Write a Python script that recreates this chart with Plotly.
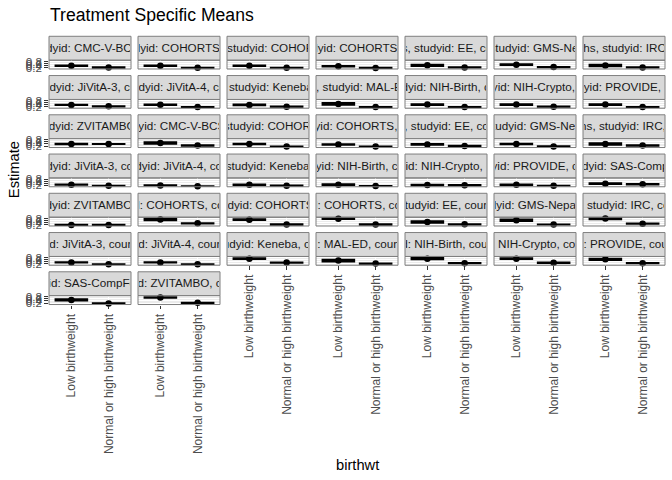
import plotly.graph_objects as go

# ---------------- data ----------------
categories = ["Low birthweight", "Normal or high birthweight"]

panel_agecat = ["24 months"] * 15 + ["6 months"] * 14 + ["Birth"] * 15

panel_studyid = [
    # 24 months
    "CMC-V-BCS-2002", "COHORTS", "COHORTS", "COHORTS", "EE", "GMS-Nepal", "IRC",
    "JiVitA-3", "JiVitA-4", "Keneba", "MAL-ED", "NIH-Birth", "NIH-Crypto", "PROVIDE",
    "ZVITAMBO",
    # 6 months
    "CMC-V-BCS-2002", "COHORTS", "COHORTS", "EE", "GMS-Nepal", "IRC",
    "JiVitA-3", "JiVitA-4", "Keneba", "NIH-Birth", "NIH-Crypto", "PROVIDE",
    "SAS-CompFeed", "ZVITAMBO",
    # Birth
    "COHORTS", "COHORTS", "COHORTS", "EE", "GMS-Nepal", "IRC",
    "JiVitA-3", "JiVitA-4", "Keneba", "MAL-ED", "NIH-Birth", "NIH-Crypto", "PROVIDE",
    "SAS-CompFeed", "ZVITAMBO",
]

panel_country = [
    "INDIA", "GUATEMALA", "INDIA", "PHILIPPINES", "PAKISTAN", "NEPAL", "INDIA",
    "BANGLADESH", "BANGLADESH", "GAMBIA", "PERU", "BANGLADESH", "BANGLADESH", "BANGLADESH",
    "ZIMBABWE",
    "INDIA", "INDIA", "PHILIPPINES", "PAKISTAN", "NEPAL", "INDIA",
    "BANGLADESH", "BANGLADESH", "GAMBIA", "BANGLADESH", "BANGLADESH", "BANGLADESH",
    "INDIA", "ZIMBABWE",
    "GUATEMALA", "INDIA", "PHILIPPINES", "PAKISTAN", "NEPAL", "INDIA",
    "BANGLADESH", "BANGLADESH", "GAMBIA", "SOUTH AFRICA", "BANGLADESH", "BANGLADESH", "BANGLADESH",
    "INDIA", "ZIMBABWE",
]

# estimates and CI bounds: Low birthweight
low_est = [
    0.38, 0.38, 0.38, 0.33, 0.42, 0.48, 0.40,
    0.38, 0.40, 0.38, 0.48, 0.42, 0.42, 0.42,
    0.40,
    0.50, 0.40, 0.35, 0.36, 0.40, 0.40,
    0.26, 0.18, 0.26, 0.26, 0.22, 0.26, 0.36,
    0.16,
    0.70, 0.68, 0.78, 0.45, 0.62, 0.80,
    0.33, 0.33, 0.70, 0.52, 0.70, 0.70, 0.64,
    0.50, 0.74,
]
low_lo = [
    0.35, 0.35, 0.35, 0.30, 0.35, 0.44, 0.33,
    0.36, 0.37, 0.34, 0.39, 0.38, 0.38, 0.38,
    0.37,
    0.42, 0.37, 0.32, 0.32, 0.37, 0.33,
    0.24, 0.16, 0.23, 0.22, 0.18, 0.23, 0.31,
    0.14,
    0.62, 0.64, 0.74, 0.37, 0.55, 0.72,
    0.31, 0.31, 0.66, 0.43, 0.63, 0.66, 0.57,
    0.43, 0.71,
]
low_hi = [
    0.41, 0.41, 0.41, 0.36, 0.49, 0.52, 0.47,
    0.40, 0.43, 0.42, 0.57, 0.46, 0.46, 0.46,
    0.43,
    0.58, 0.43, 0.38, 0.40, 0.43, 0.47,
    0.28, 0.20, 0.29, 0.30, 0.26, 0.29, 0.41,
    0.18,
    0.78, 0.72, 0.82, 0.53, 0.69, 0.88,
    0.35, 0.35, 0.74, 0.61, 0.77, 0.74, 0.71,
    0.57, 0.77,
]
# Normal or high birthweight
norm_est = [
    0.20, 0.17, 0.18, 0.16, 0.21, 0.24, 0.21,
    0.24, 0.18, 0.21, 0.17, 0.18, 0.21, 0.18,
    0.40,
    0.25, 0.15, 0.15, 0.20, 0.16, 0.25,
    0.15, 0.10, 0.15, 0.12, 0.20, 0.15, 0.30,
    0.16,
    0.32, 0.20, 0.20, 0.22, 0.20, 0.28,
    0.15, 0.15, 0.32, 0.22, 0.26, 0.30, 0.26,
    0.15, 0.22,
]
norm_lo = [
    0.18, 0.16, 0.17, 0.15, 0.19, 0.22, 0.19,
    0.23, 0.17, 0.19, 0.15, 0.17, 0.19, 0.17,
    0.39,
    0.22, 0.14, 0.14, 0.18, 0.15, 0.22,
    0.14, 0.09, 0.13, 0.11, 0.18, 0.14, 0.28,
    0.15,
    0.30, 0.18, 0.18, 0.20, 0.19, 0.26,
    0.14, 0.14, 0.30, 0.20, 0.24, 0.28, 0.24,
    0.13, 0.20,
]
norm_hi = [
    0.22, 0.18, 0.19, 0.17, 0.23, 0.26, 0.23,
    0.25, 0.19, 0.23, 0.19, 0.19, 0.23, 0.19,
    0.41,
    0.28, 0.16, 0.16, 0.22, 0.17, 0.28,
    0.16, 0.11, 0.17, 0.13, 0.22, 0.16, 0.32,
    0.17,
    0.34, 0.22, 0.22, 0.24, 0.21, 0.30,
    0.16, 0.16, 0.34, 0.24, 0.28, 0.32, 0.28,
    0.17, 0.24,
]

y_tick_vals = [0.0, 0.2, 0.4, 0.6, 0.8]
y_tick_text = ["0.0", "0.2", "0.4", "0.6", "0.8"]

title_text = "Treatment Specific Means"
x_title = "birthwt"
y_title = "Estimate"

# ---------------- layout geometry (pixels) ----------------
W, H = 672, 480
NCOL = 7
COL_LEFT0, COL_PITCH, PANEL_W = 49, 89, 82
ROW_TOP0, ROW_PITCH = 31, 40.17
STRIP_H, PANEL_H = 24.5, 9.0
FONT = "Liberation Sans, Arial, sans-serif"

def px_x(x):
    return x / W

def px_y(y):
    return 1 - y / H

n = len(panel_studyid)
ymin = min(low_lo + norm_lo)
ymax = max(low_hi + norm_hi)
pad = (ymax - ymin) * 0.05
yrange = [ymin - pad, ymax + pad]

bottom_in_col = {}
for i in range(n):
    bottom_in_col[i % NCOL] = i

fig = go.Figure()
shapes = []
annotations = []
layout_axes = {}

for i in range(n):
    r, c = divmod(i, NCOL)
    left = COL_LEFT0 + COL_PITCH * c
    strip_top = ROW_TOP0 + ROW_PITCH * r
    ptop = strip_top + STRIP_H
    pbot = ptop + PANEL_H
    k = i + 1
    xa = "x" if k == 1 else f"x{k}"
    ya = "y" if k == 1 else f"y{k}"
    xkey = "xaxis" if k == 1 else f"xaxis{k}"
    ykey = "yaxis" if k == 1 else f"yaxis{k}"

    is_bottom = bottom_in_col[c] == i
    is_left = c == 0

    layout_axes[xkey] = dict(
        domain=[px_x(left), px_x(left + PANEL_W)],
        anchor=ya,
        type="category",
        categoryorder="array",
        categoryarray=categories,
        range=[-0.6, 1.6],
        showgrid=True, gridcolor="white", gridwidth=1,
        zeroline=False, showline=False,
        showticklabels=is_bottom,
        ticks="outside" if is_bottom else "",
        ticklen=3.7, tickwidth=1, tickcolor="#333333",
        tickangle=-90,
        tickfont=dict(family=FONT, size=12, color="#4D4D4D"),
        fixedrange=True,
    )
    layout_axes[ykey] = dict(
        domain=[px_y(pbot), px_y(ptop)],
        anchor=xa,
        range=yrange,
        tickmode="array",
        tickvals=y_tick_vals,
        ticktext=y_tick_text,
        showgrid=True, gridcolor="white", gridwidth=1,
        zeroline=False, showline=False,
        showticklabels=is_left,
        ticks="outside" if is_left else "",
        ticklen=3.7, tickwidth=1, tickcolor="#333333",
        tickfont=dict(family=FONT, size=11.7, color="#4D4D4D"),
        fixedrange=True,
    )

    est = [low_est[i], norm_est[i]]
    plus = [low_hi[i] - low_est[i], norm_hi[i] - norm_est[i]]
    minus = [low_est[i] - low_lo[i], norm_est[i] - norm_lo[i]]
    fig.add_trace(go.Scatter(
        x=categories, y=est, xaxis=xa, yaxis=ya,
        mode="markers",
        marker=dict(color="black", size=6.5),
        error_y=dict(type="data", symmetric=False, array=plus, arrayminus=minus,
                     color="black", thickness=1.9, width=16.8),
        showlegend=False, hoverinfo="skip", cliponaxis=False,
    ))

    # panel border
    shapes.append(dict(type="rect", xref="paper", yref="paper",
                       x0=px_x(left), x1=px_x(left + PANEL_W),
                       y0=px_y(pbot), y1=px_y(ptop),
                       line=dict(color="#7F7F7F", width=1), fillcolor="rgba(0,0,0,0)",
                       layer="above"))
    # strip
    shapes.append(dict(type="rect", xref="paper", yref="paper",
                       x0=px_x(left), x1=px_x(left + PANEL_W),
                       y0=px_y(ptop), y1=px_y(strip_top),
                       line=dict(color="#7F7F7F", width=1), fillcolor="#D9D9D9",
                       layer="below"))
    label = f"agecat: {panel_agecat[i]}, studyid: {panel_studyid[i]}, country: {panel_country[i]}"
    annotations.append(dict(
        xref="paper", yref="paper",
        x=px_x(left + PANEL_W / 2), y=px_y(strip_top + STRIP_H / 2 - 1),
        xanchor="center", yanchor="middle",
        text=label, showarrow=False,
        width=PANEL_W - 2, height=STRIP_H - 2, align="center", borderpad=0,
        font=dict(family=FONT, size=11.7, color="#1A1A1A"),
    ))

annotations.append(dict(xref="paper", yref="paper", x=px_x(48), y=px_y(9),
                        xanchor="left", yanchor="middle", text=title_text, showarrow=False,
                        font=dict(family=FONT, size=17.6, color="black")))
annotations.append(dict(xref="paper", yref="paper", x=px_x(14), y=px_y(168),
                        xanchor="center", yanchor="middle", text=y_title, showarrow=False,
                        textangle=-90, font=dict(family=FONT, size=14.7, color="black")))
annotations.append(dict(xref="paper", yref="paper", x=px_x(357), y=px_y(470),
                        xanchor="center", yanchor="middle", text=x_title, showarrow=False,
                        font=dict(family=FONT, size=14.7, color="black")))

fig.update_layout(
    width=W, height=H,
    margin=dict(l=0, r=0, t=0, b=0),
    paper_bgcolor="white",
    plot_bgcolor="#EBEBEB",
    shapes=shapes,
    annotations=annotations,
    showlegend=False,
    **layout_axes,
)

fig.write_html("out.html", config={"displayModeBar": False})
